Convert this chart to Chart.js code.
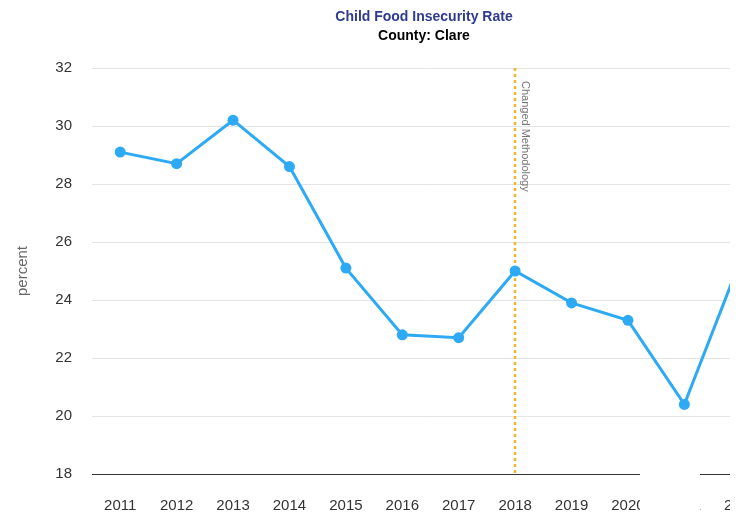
<!DOCTYPE html>
<html>
<head>
<meta charset="utf-8">
<script src="https://cdn.jsdelivr.net/npm/chart.js@4"></script>
<style>
  html, body { margin:0; padding:0; background:#fff; }
  #wrap { position:relative; width:730px; height:517px; overflow:hidden; }
  #cover { position:absolute; left:640px; top:440px; width:60px; height:77px; background:#fff; }
</style>
</head>
<body>
<div id="wrap">
  <canvas id="chart" width="848" height="517"></canvas>
  <div id="cover"></div>
</div>
<script>
// ---- data ----
var years = ['2011','2012','2013','2014','2015','2016','2017','2018','2019','2020','2021','2022'];
var rates = [29.1, 28.7, 30.2, 28.6, 25.1, 22.8, 22.7, 25.0, 23.9, 23.3, 20.4, 25.4];
var yTicks = [18, 20, 22, 24, 26, 28, 30, 32];
var markerYear = '2018';
var markerText = 'Changed Methodology';
var titleText = 'Child Food Insecurity Rate';
var subtitleText = 'County: Clare';

var FONT = "'Liberation Sans', Arial, sans-serif";

// titles, centred on the whole canvas
var titlePlugin = {
  id: 'titles',
  afterDraw: function(chart) {
    var ctx = chart.ctx, cx = chart.width / 2;
    ctx.save();
    ctx.textAlign = 'center';
    ctx.textBaseline = 'middle';
    ctx.font = 'bold 14px ' + FONT;
    ctx.fillStyle = '#2f3b8f';
    ctx.fillText(titleText, cx, 17);
    ctx.fillStyle = '#000';
    ctx.fillText(subtitleText, cx, 36);
    ctx.restore();
  }
};

// vertical dotted line + rotated note, under the series
var markerPlugin = {
  id: 'marker',
  beforeDatasetsDraw: function(chart) {
    var ctx = chart.ctx, area = chart.chartArea;
    var x = Math.round(chart.scales.x.getPixelForValue(years.indexOf(markerYear)));
    ctx.save();
    ctx.strokeStyle = '#f4b42c';
    ctx.lineWidth = 2.5;
    ctx.setLineDash([3, 3]);
    ctx.beginPath();
    ctx.moveTo(x, area.top);
    ctx.lineTo(x, area.bottom);
    ctx.stroke();
    ctx.setLineDash([]);
    ctx.translate(x + 5, area.top + 13);
    ctx.rotate(Math.PI / 2);
    ctx.fillStyle = '#777';
    ctx.font = '11px ' + FONT;
    ctx.textBaseline = 'bottom';
    ctx.textAlign = 'left';
    ctx.fillText(markerText, 0, 0);
    ctx.restore();
  }
};

new Chart(document.getElementById('chart'), {
  type: 'line',
  data: {
    labels: years,
    datasets: [{
      data: rates,
      borderColor: '#2eaaf5',
      backgroundColor: '#2eaaf5',
      borderWidth: 3,
      pointRadius: 5.5,
      pointBorderWidth: 0,
      pointHoverRadius: 5.5,
      tension: 0,
      fill: false
    }]
  },
  options: {
    responsive: false,
    animation: false,
    layout: { padding: { left: 0, right: 79, top: 68, bottom: 0 } },
    plugins: {
      legend: { display: false },
      tooltip: { enabled: false },
      title: { display: false }
    },
    scales: {
      x: {
        offset: true,
        grid: { display: false, drawTicks: false },
        border: { display: true, color: '#333', width: 1 },
        ticks: { color: '#333', font: { family: FONT, size: 15 }, padding: 23, maxRotation: 0, autoSkip: false },
        afterFit: function(s) { s.height = 43; }
      },
      y: {
        min: 18,
        max: 32,
        afterBuildTicks: function(s) { s.ticks = yTicks.map(function(v) { return { value: v }; }); },
        grid: { color: '#e4e4e4', drawTicks: false },
        border: { display: false },
        ticks: { color: '#333', font: { family: FONT, size: 15 }, padding: 20 },
        title: { display: true, text: 'percent', color: '#666', font: { family: FONT, size: 15 }, padding: { top: 14, bottom: 0 } },
        afterFit: function(s) { s.width = 92; }
      }
    }
  },
  plugins: [markerPlugin, titlePlugin]
});
</script>
</body>
</html>
